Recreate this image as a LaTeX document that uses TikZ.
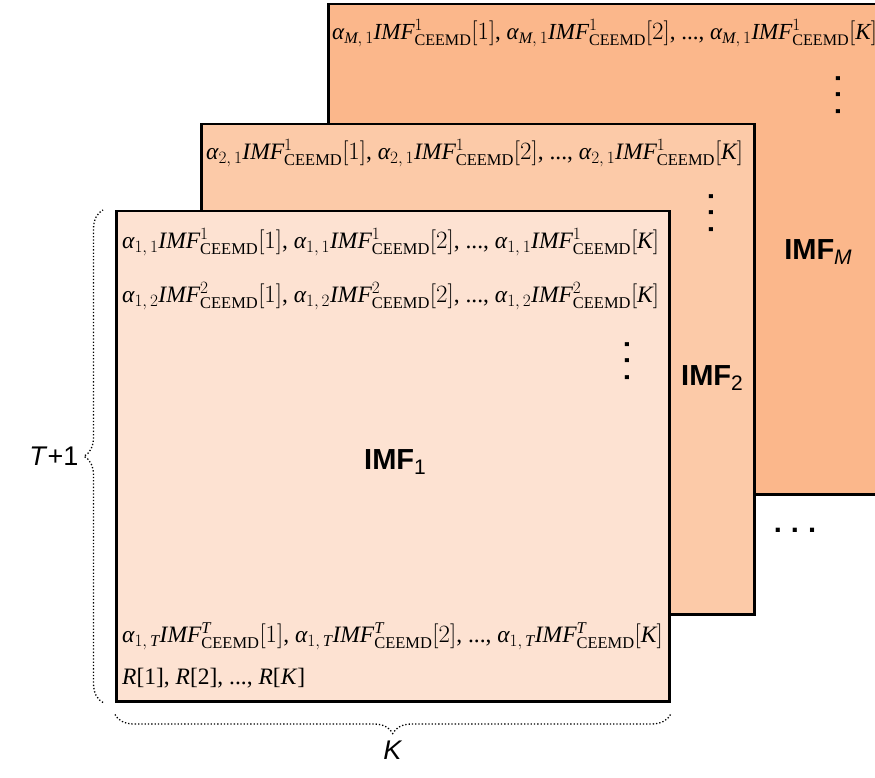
\documentclass[tikz,border=0pt]{standalone}
\usepackage{amsmath}
\usepackage{fontspec}
\setmainfont{Liberation Serif}
\newfontfamily\labelfont{Liberation Sans}
\usepackage{xcolor}
\usetikzlibrary{positioning,decorations.pathreplacing}

\definecolor{frontfill}{HTML}{FDE2D2}
\definecolor{midfill}{HTML}{FCCAA8}
\definecolor{backfill}{HTML}{FBB78B}

% one term alpha IMF[n] and one full row
\newcommand{\imfterm}[3]{$\textit{α}_{#1}\textit{IMF}^{#2}_{\text{CEEMD}}[#3]$}
\newcommand{\imfrow}[2]{\imfterm{#1}{#2}{1}, \imfterm{#1}{#2}{2}, ..., \imfterm{#1}{#2}{\textit{K}}}
\newcommand{\imflabel}[1]{IMF\raisebox{-0.35ex}{\fontsize{21}{21}\selectfont\mdseries #1}}

\begin{document}
\begin{tikzpicture}[
  x=1pt, y=-1pt,
  layer/.style={draw, line width=2.5pt, minimum width=553pt, minimum height=490pt, inner sep=0pt, anchor=north west},
  row/.style={anchor=west, inner sep=0pt, font=\fontsize{23.5}{26}\selectfont},
  imftitle/.style={inner sep=0pt, font=\labelfont\bfseries\fontsize{29}{30}\selectfont},
  vdotsbox/.style={inner sep=0pt, rotate=90, font=\labelfont\bfseries\fontsize{28}{28}\selectfont},
  brace/.style={decorate, decoration={brace, amplitude=19pt}, dotted, line width=1.3pt},
  axislabel/.style={inner sep=0pt, font=\labelfont\fontsize{27}{28}\selectfont},
]
  \useasboundingbox (0,0) rectangle (875,778);

  % layers, back to front
  \node[layer, fill=backfill] (imfM) at (327,3) {};
  \node[layer, fill=midfill] (imf2) at (200,123) {};
  \node[layer, fill=frontfill] (imf1) at (115,210) {};

  % back layer
  \node[row, font=\fontsize{23}{26}\selectfont] (rowM) at (332,33) {\imfrow{\textit{M},\,1}{1}};
  \node[vdotsbox] (dotsM) at (838,95) {.\hspace{9pt}.\hspace{9pt}.};
  \node[imftitle] (titleM) at (818,252) {IMF\raisebox{-0.35ex}{\fontsize{21}{21}\selectfont\mdseries\itshape M}};

  % middle layer
  \node[row] (row2) at (206,153) {\imfrow{2,\,1}{1}};
  \node[vdotsbox] (dots2) at (711,213) {.\hspace{9pt}.\hspace{9pt}.};
  \node[imftitle] (title2) at (712,378) {\imflabel{2}};

  % front layer
  \node[row] (row11) at (122,242) {\imfrow{1,\,1}{1}};
  \node[row] (row12) at (122,296) {\imfrow{1,\,2}{2}};
  \node[vdotsbox] (dots1) at (627,361) {.\hspace{9pt}.\hspace{9pt}.};
  \node[imftitle] (title1) at (395,462) {\imflabel{1}};
  \node[row] (row1T) at (122,636) {\imfrow{1,\,\textit{T}}{\textit{T}}};
  \node[row] (rowR) at (122,678) {\textit{R}[1], \textit{R}[2], ..., \textit{R}[\textit{K}]};

  % more layers
  \node[imftitle] (more) at (795,530) {.\hspace{9pt}.\hspace{9pt}.};

  % braces
  \draw[brace] ([xshift=-12pt]imf1.south west) -- ([xshift=-12pt]imf1.north west)
    node[midway, left=24pt, axislabel] (tlabel) {\textit{T}+1};
  \draw[brace] ([yshift=-12pt]imf1.south east) -- ([yshift=-12pt]imf1.south west)
    node[midway, below=26pt, axislabel] (klabel) {\textit{K}};
\end{tikzpicture}
\end{document}
